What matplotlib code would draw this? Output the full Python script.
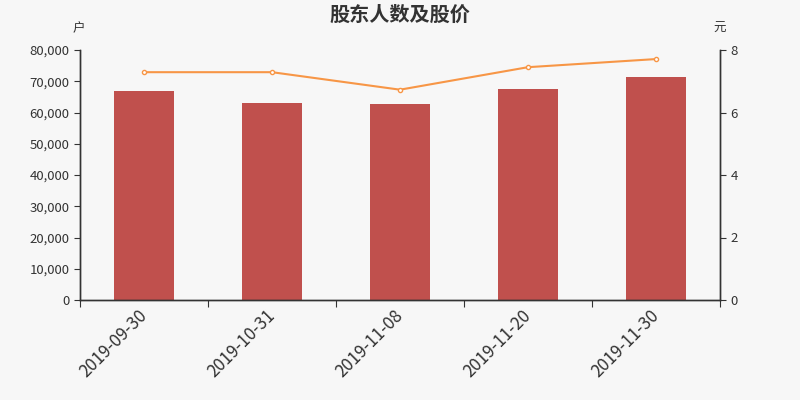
import matplotlib
matplotlib.use('Agg')
import matplotlib.pyplot as plt
import numpy as np
from matplotlib.ticker import FuncFormatter

plt.rcParams['font.family'] = ['Noto Sans CJK SC', 'DejaVu Sans']

dates = ['2019-09-30', '2019-10-31', '2019-11-08', '2019-11-20', '2019-11-30']
holders = [66950, 63040, 62820, 67520, 71360]
price = [7.29, 7.29, 6.73, 7.45, 7.71]

BG = '#f7f7f7'
BAR = '#c0504d'
LINE = '#f79646'
AXC = '#333333'

fig = plt.figure(figsize=(8, 4), dpi=100, facecolor=BG)
ax = fig.add_axes([0.1, 0.25, 0.8, 0.625], facecolor=BG)
x = np.arange(len(dates))
ax.bar(x, holders, width=0.47, color=BAR, zorder=2)
ax.set_xlim(-0.5, len(dates) - 0.5)
ax.set_ylim(0, 80000)
ax.set_yticks(np.arange(0, 80001, 10000))
ax.yaxis.set_major_formatter(FuncFormatter(lambda v, p: f'{int(v):,}'))
ax.set_xticks(np.arange(-0.5, len(dates), 1.0))
ax.set_xticklabels([])
ax.set_xticks(x, minor=True)
ax.set_xticklabels(dates, minor=True, rotation=45, ha='right', va='center',
                   rotation_mode='anchor', fontsize=12.2, color=AXC)
ax.tick_params(axis='x', which='minor', length=0, pad=9)
ax.tick_params(axis='x', which='major', length=5, color=AXC)
ax.tick_params(axis='y', labelsize=9.5, colors=AXC, length=4)

ax2 = ax.twinx()
ax2.plot(x, price, color=LINE, lw=1.5, marker='o', ms=3,
         mfc='white', mec=LINE, mew=1, zorder=3)
ax2.set_ylim(0, 8)
ax2.set_yticks([0, 2, 4, 6, 8])
ax2.tick_params(axis='y', labelsize=9.5, colors=AXC, length=4)

for a in (ax, ax2):
    a.spines['top'].set_visible(False)
    for s in ('left', 'right', 'bottom'):
        a.spines[s].set_color(AXC)
        a.spines[s].set_linewidth(1)

fig.text(0.5, 0.965, '股东人数及股价', ha='center', va='center',
         fontsize=14.5, fontweight='bold', color=AXC)
fig.text(0.098, 0.928, '户', ha='center', va='center', fontsize=9, color=AXC)
fig.text(0.9, 0.928, '元', ha='center', va='center', fontsize=9, color=AXC)

fig.savefig('out.png', dpi=100, facecolor=BG)
